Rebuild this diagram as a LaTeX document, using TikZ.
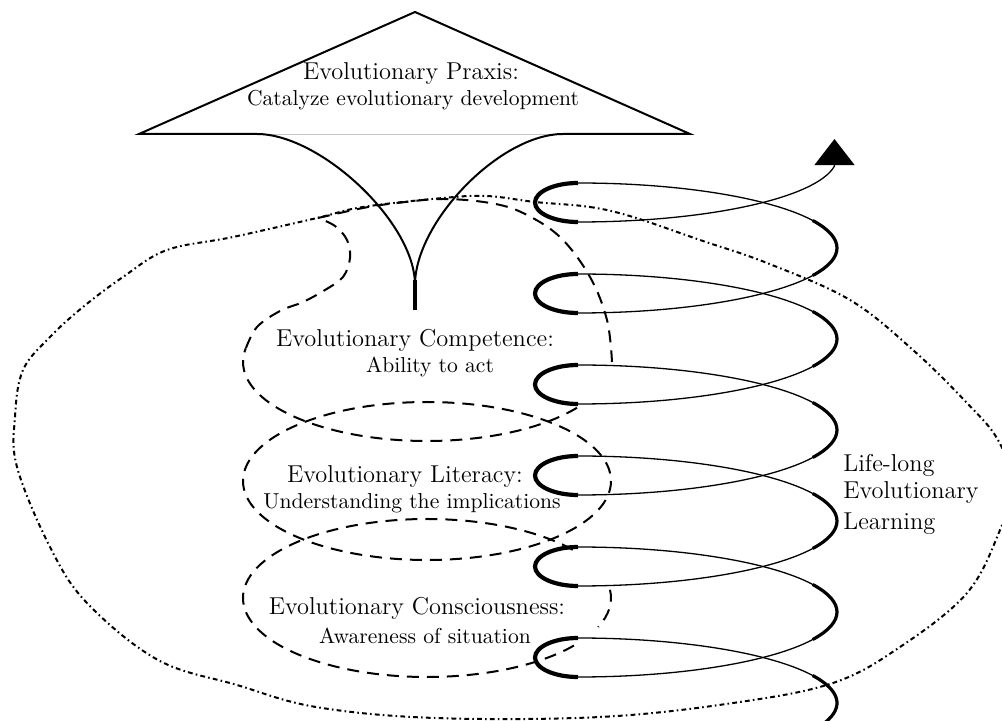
\documentclass[tikz,border=0pt]{standalone}
\usepackage{fontspec}
\usetikzlibrary{arrows.meta}

\begin{document}
\begin{tikzpicture}[x=0.5pt,y=-0.5pt]
\tikzset{stage/.style={font=\fontsize{12.2}{14}\selectfont, inner sep=0pt, anchor=base},
		gloss/.style={font=\fontsize{10.8}{13}\selectfont, inner sep=0pt, anchor=base},
		outline/.style={line width=1pt, line join=miter},
		coilback/.style={line width=2.1pt},
		coilfront/.style={line width=0.65pt},
		coilbend/.style={line width=1.6pt},
		ring/.style={line width=1pt, dash pattern=on 6pt off 4pt},
		horizon/.style={line width=1pt, dash pattern=on 2.4pt off 1.6pt on 0.8pt off 1.6pt}}
\clip (0,0) rectangle (1002,721);
% outer horizon
\draw[horizon] plot[smooth cycle, tension=0.6] coordinates {(535,202) (590,207) (633,217) (700,240) (767,263) (850,300) (913,350) (967,403) (998,440) (1013,485) (1000,530) (967,593) (900,647) (833,683) (733,703) (600,717) (435,718) (316,707) (237,685) (158,660) (87,603) (50,547) (17,467) (15,417) (23,370) (50,337) (83,307) (123,277) (167,250) (233,237) (317,218) (363,207) (443,198) (487,196)};
% the three stages
\draw[ring] ([shift={(427,362)}]35.4:184 and 79) arc[start angle=35.4, end angle=190, x radius=184, y radius=79];
\draw[ring] plot[smooth, tension=0.6] coordinates {(246,348) (257,327) (280,311) (303,302) (325,290) (343,277) (350,258) (347,240) (335,226) (318,218)};
\draw[ring] plot[smooth, tension=0.6] coordinates {(318,218) (363,208) (397,203) (443,199) (490,203) (523,213) (560,237) (590,277) (607,320) (612,362)};
\draw[ring] (427,481) ellipse[x radius=184, y radius=79];
\draw[ring] ([shift={(427,598)}]37:184 and 79) arc[start angle=37, end angle=324.6, x radius=184, y radius=79];
\draw[ring] ([shift={(427,598)}]-6:184 and 79) arc[start angle=-6, end angle=21.5, x radius=184, y radius=79];
% praxis
\draw[outline] (257,134) -- (139,134) -- (415,12) -- (690,134) -- (563,134);
\draw[gray!45, line width=0.4pt] (257,134) -- (563,134);
\draw[outline] (257,134) .. controls (320,134) and (415,222) .. (415,285);
\draw[outline] (563,134) .. controls (500,134) and (415,222) .. (415,285);
\draw[line width=2pt] (415,280) -- (415,310);
% learning coil
\foreach \t in {183,274,365,456,547,638}
	\draw[coilback] (578,\t) arc[start angle=-90, end angle=-270, x radius=43, y radius=19.5];
\foreach \t in {183,274,365,456,547} {
	\draw[coilfront] (578,\t) arc[start angle=-90, end angle=90, x radius=259, y radius=65];
	\draw[coilbend] ([shift={(578,\t+65)}]-25:259 and 65) arc[start angle=-25, end angle=25, x radius=259, y radius=65];
}
\draw[coilfront] (578,638) arc[start angle=-90, end angle=17, x radius=259, y radius=65];
\draw[coilbend] ([shift={(578,703)}]-25:259 and 65) arc[start angle=-25, end angle=17, x radius=259, y radius=65];
\draw[coilfront, -{Triangle[width=20pt,length=13pt]}] (578,222) arc[start angle=90, end angle=8, x radius=259, y radius=65] -- ++(0,-27);
% labels
\node[stage] (praxis) at (411,80) {Evolutionary Praxis:};
\node[gloss] (praxis aim) at (413,106) {Catalyze evolutionary development};
\node[stage] (competence) at (415,347) {Evolutionary Competence:};
\node[gloss] (competence aim) at (430,373) {Ability to act};
\node[stage] (literacy) at (405,483) {Evolutionary Literacy:};
\node[gloss] (literacy aim) at (412,509) {Understanding the implications};
\node[stage] (consciousness) at (417,615) {Evolutionary Consciousness:};
\node[gloss] (consciousness aim) at (425,643) {Awareness of situation};
\node[stage, anchor=base west] (lifelong) at (843,472) {Life-long};
\node[stage, anchor=base west] (evolutionary) at (843,499) {Evolutionary};
\node[stage, anchor=base west] (learning) at (843,530) {Learning};
\end{tikzpicture}
\end{document}
